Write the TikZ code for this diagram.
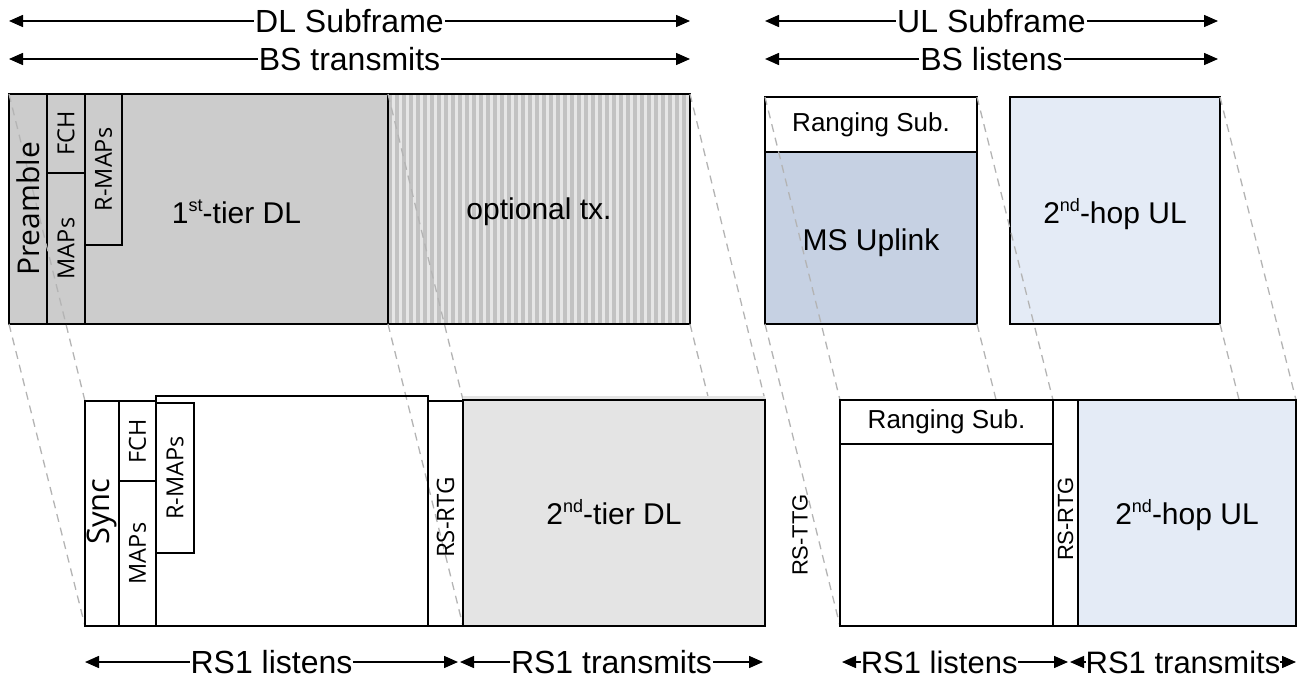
\documentclass[tikz,border=0pt]{standalone}
\usepackage{fontspec}
\setmainfont{Liberation Sans}
\newfontfamily\segfont{Open Sans}
\usetikzlibrary{arrows.meta}
\pgfdeclarelayer{toprow}
\pgfdeclarelayer{guides}
\pgfsetlayers{toprow,guides,main}
\definecolor{topgray}{HTML}{CCCCCC}
\definecolor{stripeD}{HTML}{C2C2C2}
\definecolor{stripeL}{HTML}{E6E6E6}
\definecolor{msblue}{HTML}{C6D1E3}
\definecolor{hopblue}{HTML}{E4EBF6}
\definecolor{tiergray}{HTML}{E4E4E4}
\definecolor{guidegray}{HTML}{B4B4B4}
\newcommand{\mysup}[1]{\raisebox{0.75ex}{\fontsize{18}{18}\selectfont #1}}
\newcommand{\cell}[7]{\node[frame,#6,minimum width={(#4-#2)*1pt},minimum height={(#5-#3)*1pt}] (#1) at (#2,#3) {#7};}
\begin{document}
\begin{tikzpicture}[x=1pt,y=-1pt,
  frame/.style={draw=black, line width=1.6pt, inner sep=0pt, outer sep=0pt, anchor=north west, font=\fontsize{30}{36}\selectfont},
  boxtxt/.style={inner sep=0pt, font=\fontsize{30}{36}\selectfont},
  small/.style={font=\fontsize{26}{30}\selectfont},
  rot/.style={rotate=90, inner sep=0pt},
  segA/.style={rot, font=\segfont\fontsize{30}{34}\selectfont},
  segS/.style={rot, font=\segfont\fontsize{31}{34}\selectfont},
  segB/.style={rot, font=\segfont\fontsize{23.5}{28}\selectfont},
  segC/.style={rot, font=\segfont\fontsize{24}{28}\selectfont},
  arl/.style={rot, font=\fontsize{22}{26}\selectfont},
  guide/.style={draw=guidegray, line width=1.3pt, dash pattern=on 8pt off 6pt},
  dimarrow/.style={{Triangle[length=14pt,width=12pt]}-{Triangle[length=14pt,width=12pt]}, line width=1.5pt},
  dimlab/.style={fill=white, inner sep=1pt, font=\fontsize{32}{38}\selectfont},
  dimlabB/.style={fill=white, inner sep=0pt, font=\fontsize{31}{36}\selectfont}]
\useasboundingbox (0,0) rectangle (1297,679);

% ---------- top row ----------
\begin{pgfonlayer}{toprow}
\cell{pre}{9}{94}{47}{324}{fill=topgray}{}
\cell{fch}{47}{94}{85}{173}{fill=topgray}{}
\cell{maps}{47}{173}{85}{324}{fill=topgray}{}
\cell{tier1}{85}{94}{388}{324}{fill=topgray}{}
\cell{rmaps}{85}{94}{122}{245}{fill=topgray}{}
\fill[stripeL] (388,94) rectangle (690,324);
\foreach \i in {0,...,42} { \fill[stripeD] ({388+\i*7},94) rectangle ({388+\i*7+4},324); }
\cell{opt}{388}{94}{690}{324}{}{}
\cell{rng1}{765}{97}{977}{152}{fill=white,small}{Ranging Sub.}
\cell{msul}{765}{152}{977}{324}{fill=msblue}{}
\cell{hop1}{1010}{97}{1220}{324}{fill=hopblue}{}
\end{pgfonlayer}

% ---------- bottom row ----------
\cell{sync}{85}{401}{119}{626}{}{}
\cell{fch2}{119}{401}{156}{481}{}{}
\cell{maps2}{119}{481}{156}{626}{}{}
\cell{rsdl}{156}{396}{428}{626}{}{}
\cell{rmaps2}{156}{403}{194}{553}{}{}
\cell{rtg1}{428}{401}{463}{626}{}{}
\fill[tiergray] (463,396) rectangle (765,400);
\cell{tier2}{463}{400}{765}{626}{fill=tiergray}{}
\cell{rng2}{840}{400}{1053}{444}{fill=white,small}{Ranging Sub.}
\cell{rs2}{840}{444}{1053}{626}{fill=white}{}
\cell{rtg2}{1053}{400}{1078}{626}{fill=white}{}
\cell{hop2}{1078}{400}{1296}{626}{fill=hopblue}{}

% ---------- box texts ----------
\node[boxtxt] (tier1T) at ([yshift=-3pt]tier1.center) {1\mysup{st}-tier DL};
\node[boxtxt] (optT) at ([yshift=-3pt]opt.center) {optional tx.};
\node[boxtxt] (msulT) at ([yshift=-5pt]msul.center) {MS Uplink};
\node[boxtxt] (hop1T) at ([yshift=-4pt]hop1.center) {2\mysup{nd}-hop UL};
\node[boxtxt] (tier2T) at ([yshift=1pt]tier2.center) {2\mysup{nd}-tier DL};
\node[boxtxt] (hop2T) at ([yshift=-2pt]hop2.center) {2\mysup{nd}-hop UL};

% ---------- rotated labels ----------
\node[segA] (preT) at (pre.center) {Preamble};
\node[segB] (fchT) at (fch.center) {FCH};
\node[segB] (mapsT) at (maps.center) {MAPs};
\node[segB] (rmapsT) at (rmaps.center) {R-MAPs};
\node[segS] (syncT) at ([yshift=2pt]sync.center) {Sync};
\node[segB] (fch2T) at (fch2.center) {FCH};
\node[segB] (maps2T) at (maps2.center) {MAPs};
\node[segB] (rmaps2T) at (rmaps2.center) {R-MAPs};
\node[segC] (rtg1T) at ([yshift=-4pt]rtg1.center) {RS-RTG};
\node[arl] (rtg2T) at ([yshift=-6pt]rtg2.center) {RS-RTG};
\node[arl] (ttgT) at (800,535) {RS-TTG};

% ---------- projection guides ----------
\begin{pgfonlayer}{guides}
\draw[guide] (pre.north west) -- (sync.north west);
\draw[guide] (pre.south west) -- (sync.south west);
\draw[guide] (opt.north west) -- (tier2.north west);
\draw[guide] (opt.south west) -- (tier2.south west);
\draw[guide] (opt.north east) -- (tier2.north east);
\draw[guide] (opt.south east) -- (tier2.south east);
\draw[guide] (rng1.north west) -- (rng2.north west);
\draw[guide] (msul.south west) -- (rs2.south west);
\draw[guide] (rng1.north east) -- (rng2.north east);
\draw[guide] (msul.south east) -- (rs2.south east);
\draw[guide] (hop1.north east) -- (hop2.north east);
\draw[guide] (hop1.south east) -- (hop2.south east);
\end{pgfonlayer}

% ---------- dimension arrows ----------
\coordinate (dlA) at (9,21);   \coordinate (dlB) at (690,21);
\coordinate (btA) at (9,59);   \coordinate (btB) at (690,59);
\coordinate (ulA) at (765,21); \coordinate (ulB) at (1218,21);
\coordinate (blA) at (765,59); \coordinate (blB) at (1218,59);
\coordinate (l1A) at (85,662); \coordinate (l1B) at (458,662);
\coordinate (t1A) at (460,662); \coordinate (t1B) at (763,662);
\coordinate (l2A) at (842,662); \coordinate (l2B) at (1068,662);
\coordinate (t2A) at (1070,662); \coordinate (t2B) at (1296,662);
\draw[dimarrow] (dlA) -- (dlB) node[midway,dimlab] (dlT) {DL Subframe};
\draw[dimarrow] (btA) -- (btB) node[midway,dimlab] (btT) {BS transmits};
\draw[dimarrow] (ulA) -- (ulB) node[midway,dimlab] (ulT) {UL Subframe};
\draw[dimarrow] (blA) -- (blB) node[midway,dimlab] (blT) {BS listens};
\draw[dimarrow] (l1A) -- (l1B) node[midway,dimlab] (l1T) {RS1 listens};
\draw[dimarrow] (t1A) -- (t1B) node[midway,dimlab] (t1T) {RS1 transmits};
\draw[dimarrow] (l2A) -- (l2B) node[pos=0.43,dimlabB] (l2T) {RS1 listens};
\draw[dimarrow] (t2A) -- (t2B) node[midway,dimlabB] (t2T) {RS1 transmits};
\end{tikzpicture}
\end{document}
